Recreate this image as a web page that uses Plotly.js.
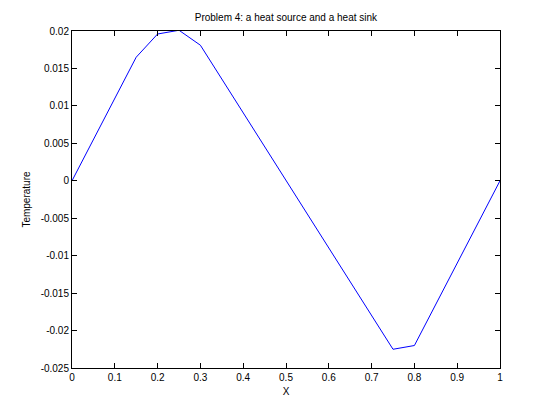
<!DOCTYPE html>
<html>
<head>
<meta charset="utf-8">
<script src="https://cdn.plot.ly/plotly-3.0.1.min.js"></script>
<style>html,body{margin:0;padding:0;background:#fff;}#chart{width:553px;height:414px;}</style>
</head>
<body>
<div id="chart"></div>
<script>
const xPos = [0, 0.05, 0.1, 0.15, 0.2, 0.25, 0.3, 0.35, 0.4, 0.45, 0.5, 0.55, 0.6, 0.65, 0.7, 0.75, 0.8, 0.85, 0.9, 0.95, 1];
const temperature = [0, 0.0055, 0.011, 0.0165, 0.0196, 0.0201, 0.0181, 0.0136, 0.0091, 0.0046, 0.0001, -0.0044, -0.0089, -0.0134, -0.0179, -0.0225, -0.022, -0.0165, -0.011, -0.0055, 0];
const xTickVals = [0, 0.1, 0.2, 0.3, 0.4, 0.5, 0.6, 0.7, 0.8, 0.9, 1];
const xTickText = ['0', '0.1', '0.2', '0.3', '0.4', '0.5', '0.6', '0.7', '0.8', '0.9', '1'];
const yTickVals = [-0.025, -0.02, -0.015, -0.01, -0.005, 0, 0.005, 0.01, 0.015, 0.02];
const yTickText = ['-0.025', '-0.02', '-0.015', '-0.01', '-0.005', '0', '0.005', '0.01', '0.015', '0.02'];

const font = {family: 'Liberation Sans, Arial, Helvetica, sans-serif', size: 10, color: '#000'};

Plotly.newPlot('chart', [{
  x: xPos, y: temperature, type: 'scatter', mode: 'lines',
  line: {color: '#0000ff', width: 1}, hoverinfo: 'none'
}], {
  width: 553, height: 414,
  margin: {l: 72, r: 53, t: 31, b: 46, pad: 0},
  paper_bgcolor: '#fff', plot_bgcolor: '#fff',
  font: font,
  showlegend: false,
  title: {text: 'Problem 4: a heat source and a heat sink', font: {family: font.family, size: 10, color: '#000'}, x: 0.517, xanchor: 'center', y: 0.958, yanchor: 'middle'},
  xaxis: {
    range: [0, 1], tickvals: xTickVals, ticktext: xTickText,
    ticks: 'inside', ticklen: 5, tickcolor: '#000', tickwidth: 1,
    showline: true, linecolor: '#000', linewidth: 1, mirror: 'ticks',
    showgrid: false, zeroline: false, tickfont: font,
    title: {text: 'X', font: font, standoff: 5}
  },
  yaxis: {
    range: [-0.025, 0.02], tickvals: yTickVals, ticktext: yTickText,
    ticks: 'inside', ticklen: 5, tickcolor: '#000', tickwidth: 1,
    showline: true, linecolor: '#000', linewidth: 1, mirror: 'ticks',
    showgrid: false, zeroline: false, tickfont: font,
    title: {text: 'Temperature', font: font, standoff: 8}
  }
}, {staticPlot: true, displayModeBar: false});
</script>
</body>
</html>
